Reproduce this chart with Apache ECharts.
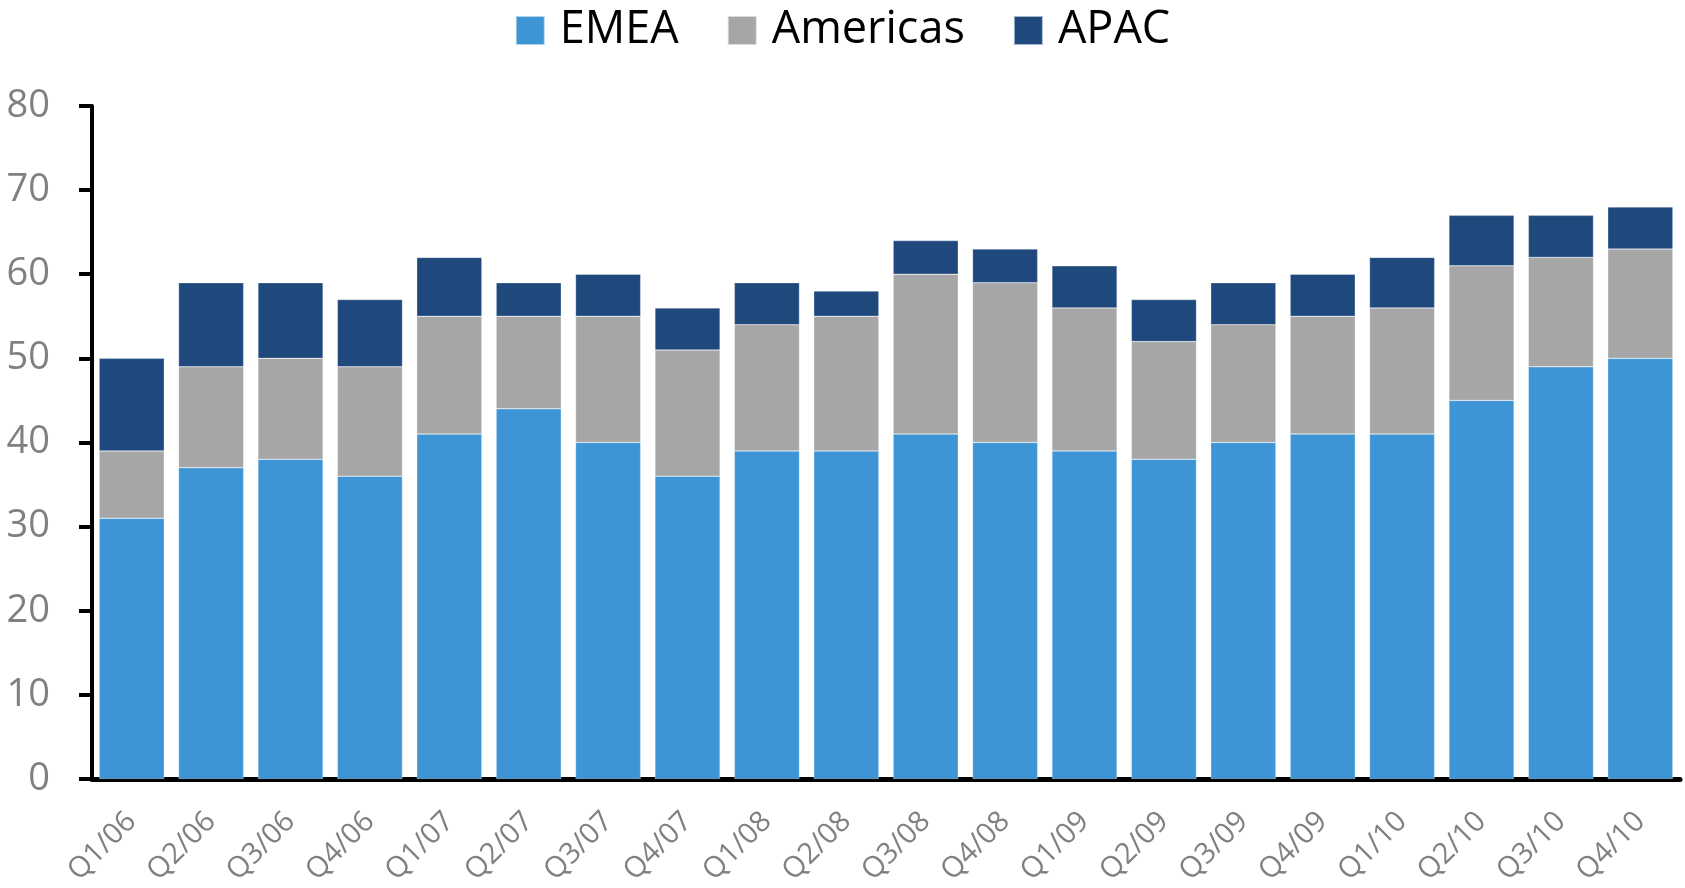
<!DOCTYPE html>
<html>
<head>
<meta charset="utf-8">
<script src="https://cdn.jsdelivr.net/npm/echarts@6/dist/echarts.min.js"></script>
<style>
  html, body { margin: 0; padding: 0; background: #fff; }
  #chart { width: 1685px; height: 888px; }
</style>
</head>
<body>
<div id="chart"></div>
<script>
// 季度
var quarters = ['Q1/06', 'Q2/06', 'Q3/06', 'Q4/06', 'Q1/07', 'Q2/07', 'Q3/07', 'Q4/07',
  'Q1/08', 'Q2/08', 'Q3/08', 'Q4/08', 'Q1/09', 'Q2/09', 'Q3/09', 'Q4/09',
  'Q1/10', 'Q2/10', 'Q3/10', 'Q4/10'];

// 各区域数值
var emea = [31, 37, 38, 36, 41, 44, 40, 36, 39, 39, 41, 40, 39, 38, 40, 41, 41, 45, 49, 50];
var americas = [8, 12, 12, 13, 14, 11, 15, 15, 15, 16, 19, 19, 17, 14, 14, 14, 15, 16, 13, 13];
var apac = [11, 10, 9, 8, 7, 4, 5, 5, 5, 3, 4, 4, 5, 5, 5, 5, 6, 6, 5, 5];

var myChart = echarts.init(document.getElementById('chart'));

var font = 'Open Sans';

function barSeries(name, data, color) {
    return {
        name: name,
        type: 'bar',
        stack: 'total',
        barCategoryGap: '18%',
        data: data,
        itemStyle: {
            color: color,
            borderColor: 'rgba(255,255,255,0.6)',
            borderWidth: 0.5
        }
    };
}

var option = {
    animation: false,
    backgroundColor: '#fff',
    legend: {
        top: 3,
        left: 'center',
        itemWidth: 29,
        itemHeight: 29,
        itemGap: 48,
        icon: 'rect',
        textStyle: {
            fontFamily: font,
            fontSize: 45,
            color: '#000',
            padding: [0, 0, 0, 10]
        },
        data: ['EMEA', 'Americas', 'APAC']
    },
    grid: {
        left: 92,
        right: 5,
        top: 106,
        bottom: 103,
        containLabel: false
    },
    xAxis: {
        type: 'category',
        data: quarters,
        axisLine: { show: true, lineStyle: { color: '#000', width: 5 } },
        axisTick: { show: false },
        axisLabel: {
            rotate: 45,
            margin: 38,
            color: '#808080',
            fontFamily: font,
            fontSize: 29
        }
    },
    yAxis: {
        type: 'value',
        min: 0,
        max: 80,
        interval: 10,
        splitLine: { show: false },
        axisLine: { show: true, lineStyle: { color: '#000', width: 4 } },
        axisTick: { show: true, length: 13, lineStyle: { color: '#000', width: 4 } },
        axisLabel: {
            margin: 42,
            color: '#808080',
            fontFamily: font,
            fontSize: 38
        }
    },
    series: [
        barSeries('EMEA', emea, '#3d95d6'),
        barSeries('Americas', americas, '#a6a6a6'),
        barSeries('APAC', apac, '#1f497d')
    ]
};

myChart.setOption(option);
</script>
</body>
</html>
